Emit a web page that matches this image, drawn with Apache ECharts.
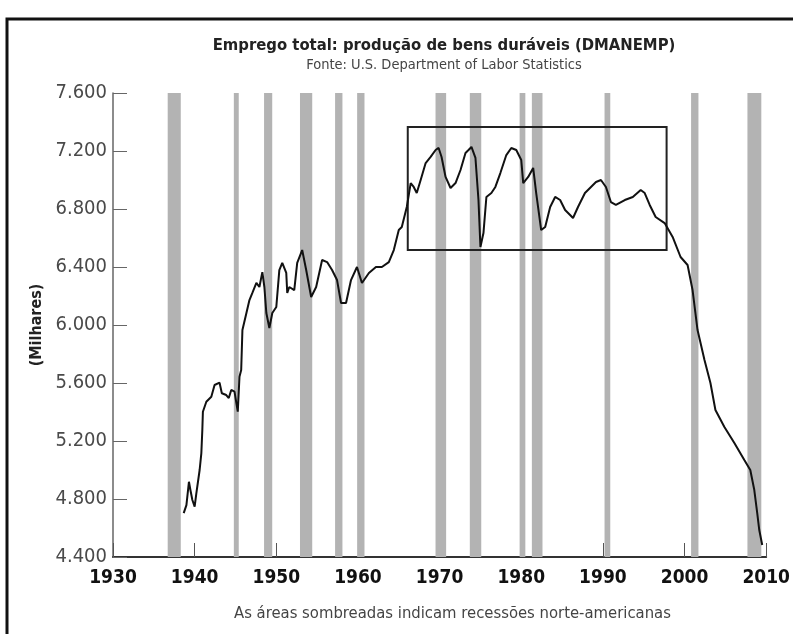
<!DOCTYPE html>
<html>
<head>
<meta charset="utf-8">
<script src="https://cdn.jsdelivr.net/npm/echarts@6/dist/echarts.min.js"></script>
<style>
  html, body { margin: 0; padding: 0; background: #fff; }
  #chart { width: 793px; height: 634px; }
</style>
</head>
<body>
<div id="chart"></div>
<script>
// emprego total, bens duráveis (milhares)
const years = [
  1938.66, 1938.99, 1939.30, 1939.48, 1939.72, 1940.00, 1940.21, 1940.61, 1940.82, 1940.94,
  1941.01, 1941.43, 1942.04, 1942.44, 1943.05, 1943.33, 1943.87, 1944.18, 1944.48, 1944.88,
  1945.28, 1945.49, 1945.70, 1945.85, 1946.34, 1946.71, 1947.07, 1947.56, 1947.93, 1948.29,
  1948.54, 1948.78, 1949.15, 1949.51, 1950.00, 1950.37, 1950.73, 1951.22, 1951.34, 1951.59,
  1952.20, 1952.56, 1953.17, 1953.66, 1954.27, 1954.88, 1955.61, 1956.22, 1956.83, 1957.44,
  1957.93, 1958.54, 1959.15, 1959.88, 1960.49, 1961.34, 1962.20, 1962.93, 1963.78, 1964.39,
  1965.00, 1965.37, 1965.98, 1966.46, 1966.83, 1967.20, 1967.68, 1968.29, 1968.90, 1969.51,
  1969.88, 1970.24, 1970.73, 1971.34, 1971.95, 1972.56, 1973.17, 1973.54, 1973.90, 1974.39,
  1974.76, 1975.00, 1975.37, 1975.73, 1976.34, 1976.83, 1977.44, 1978.17, 1978.78, 1979.39,
  1980.00, 1980.24, 1980.85, 1981.46, 1981.83, 1982.44, 1982.93, 1983.54, 1984.15, 1984.76,
  1985.37, 1985.98, 1986.34, 1986.95, 1987.80, 1988.54, 1989.15, 1989.76, 1990.37, 1990.98,
  1991.59, 1992.68, 1993.66, 1994.63, 1995.12, 1995.73, 1996.46, 1997.56, 1998.54, 1999.51,
  2000.37, 2000.98, 2001.59, 2002.44, 2003.17, 2003.78, 2004.88, 2006.10, 2007.32, 2008.05,
  2008.54, 2008.90, 2009.15, 2009.51
];
const employment = [
  4703, 4758, 4919, 4862, 4793, 4747, 4841, 5000, 5117, 5276,
  5402, 5471, 5505, 5586, 5602, 5529, 5517, 5496, 5552, 5540,
  5402, 5643, 5690, 5965, 6083, 6172, 6221, 6290, 6262, 6365,
  6262, 6083, 5979, 6083, 6124, 6379, 6428, 6359, 6221, 6262,
  6241, 6428, 6517, 6379, 6193, 6262, 6448, 6434, 6379, 6310,
  6152, 6152, 6310, 6400, 6290, 6359, 6400, 6400, 6434, 6517,
  6655, 6676, 6814, 6979, 6952, 6910, 7000, 7117, 7159, 7207,
  7221, 7159, 7021, 6945, 6979, 7069, 7186, 7207, 7228, 7152,
  6862, 6538, 6634, 6883, 6910, 6952, 7048, 7172, 7221, 7207,
  7138, 6979, 7021, 7083, 6910, 6655, 6676, 6814, 6883, 6862,
  6793, 6759, 6738, 6814, 6910, 6952, 6986, 7000, 6952, 6848,
  6828, 6862, 6883, 6931, 6910, 6828, 6745, 6703, 6607, 6469,
  6414, 6241, 5965, 5759, 5600, 5414, 5296, 5186, 5069, 5000,
  4862, 4703, 4586, 4483
];

// recessões norte-americanas (faixas cinza)
const recessionStart = [1936.7, 1944.8, 1948.5, 1952.9, 1957.2, 1959.9, 1969.5, 1973.7, 1979.8, 1981.3, 1990.2, 2000.8, 2007.7];
const recessionEnd   = [1938.3, 1945.4, 1949.5, 1954.4, 1958.1, 1960.8, 1970.8, 1975.1, 1980.5, 1982.6, 1990.9, 2001.7, 2009.4];

// retângulo de destaque e seta de tendência
const boxYears = [1966.1, 1997.8];
const boxValues = [7366, 6517];
const arrowYears = [1995.2, 2012.2];
const arrowValues = [7200, 4780];

const narrow = "'DejaVu Sans Condensed', 'Liberation Sans Narrow', sans-serif";

const chart = echarts.init(document.getElementById('chart'));

chart.setOption({
  backgroundColor: '#fff',
  animation: false,
  title: {
    text: 'Emprego total: produção de bens duráveis (DMANEMP)',
    subtext: 'Fonte: U.S. Department of Labor Statistics',
    left: 439,
    top: 32,
    textAlign: 'center',
    itemGap: 4,
    textStyle: { fontFamily: narrow, fontSize: 16.5, fontWeight: 'bold', color: '#222' },
    subtextStyle: { fontFamily: narrow, fontSize: 14.5, color: '#444' }
  },
  graphic: [
    {
      type: 'polyline',
      shape: { points: [[7, 634], [7, 19], [793, 19]] },
      style: { stroke: '#111', lineWidth: 3, fill: null }
    },
    {
      type: 'text',
      left: 234,
      top: 605,
      style: {
        text: 'As áreas sombreadas indicam recessões norte-americanas',
        font: "16.5px 'DejaVu Sans Condensed', 'Liberation Sans Narrow', sans-serif",
        fill: '#444'
      }
    }
  ],
  grid: { left: 113, right: 26, top: 93, bottom: 77 },
  xAxis: {
    type: 'value',
    min: 1930,
    max: 2010,
    interval: 10,
    axisLine: { lineStyle: { color: '#333', width: 2 } },
    axisTick: { inside: true, length: 14, lineStyle: { color: '#555', width: 1 } },
    axisLabel: {
      margin: 12,
      fontFamily: narrow,
      fontSize: 19,
      fontWeight: 'bold',
      color: '#111',
      showMinLabel: true,
      showMaxLabel: true,
      formatter: v => String(v)
    },
    splitLine: { show: false }
  },
  yAxis: {
    type: 'value',
    min: 4400,
    max: 7600,
    interval: 400,
    name: '(Milhares)',
    nameLocation: 'middle',
    nameRotate: 90,
    nameGap: 67,
    nameTextStyle: { fontFamily: narrow, fontSize: 16, fontWeight: 'bold', color: '#222' },
    axisLine: { show: true, lineStyle: { color: '#666', width: 1.5 } },
    axisTick: { show: true, inside: true, length: 14, lineStyle: { color: '#666', width: 1 } },
    axisLabel: {
      margin: 6,
      fontFamily: narrow,
      fontSize: 20,
      color: '#4a4a4a',
      formatter: v => (v / 1000).toFixed(3)
    },
    splitLine: { show: false }
  },
  series: [
    {
      name: 'Recessões',
      type: 'line',
      data: [],
      z: 1,
      silent: true,
      markArea: {
        silent: true,
        itemStyle: { color: '#b3b3b3' },
        data: recessionStart.map((s, i) => [{ xAxis: s }, { xAxis: recessionEnd[i] }])
      }
    },
    {
      name: 'DMANEMP',
      type: 'line',
      z: 3,
      showSymbol: false,
      symbol: 'none',
      lineStyle: { color: '#111', width: 2 },
      data: years.map((y, i) => [y, employment[i]]),
      markArea: {
        silent: true,
        itemStyle: { color: 'rgba(0,0,0,0)', borderColor: '#222', borderWidth: 2 },
        data: [[
          { coord: [boxYears[0], boxValues[0]] },
          { coord: [boxYears[1], boxValues[1]] }
        ]]
      },
      markLine: {
        silent: true,
        symbol: ['none', 'arrow'],
        symbolSize: 9,
        label: { show: false },
        lineStyle: { color: '#777', width: 1, type: 'solid' },
        data: [[
          { coord: [arrowYears[0], arrowValues[0]] },
          { coord: [arrowYears[1], arrowValues[1]] }
        ]]
      }
    }
  ]
});
</script>
</body>
</html>
